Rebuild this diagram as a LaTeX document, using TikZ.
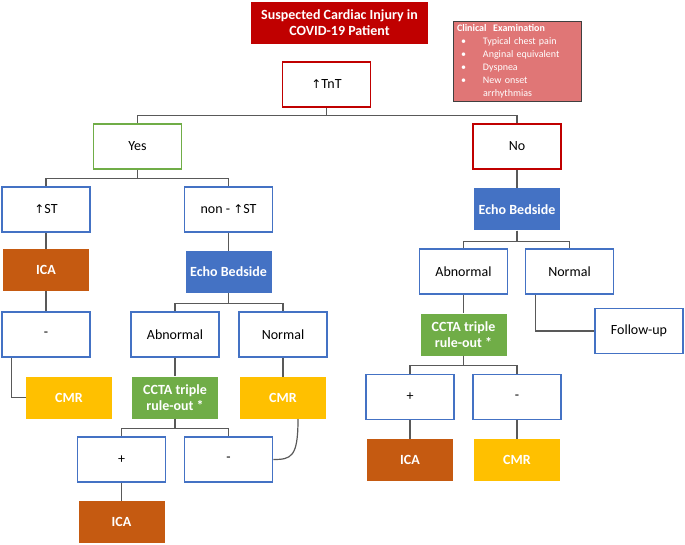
\documentclass[tikz,border=0pt]{standalone}
\usepackage{fontspec}
\setmainfont{Carlito}
\newfontfamily\arrowfont{DejaVu Sans}
\definecolor{titlered}{HTML}{C00000}
\definecolor{clinred}{HTML}{E07676}
\definecolor{yesgreen}{HTML}{70AD47}
\definecolor{boxblue}{HTML}{4472C4}
\definecolor{icaorange}{HTML}{C55A11}
\definecolor{cmryellow}{HTML}{FFC000}
\definecolor{linegray}{HTML}{595959}
\newcommand{\up}{{\arrowfont\fontsize{12}{14}\selectfont ↑}}
\tikzset{
  outline/.style={draw, line width=1.6pt, fill=white, minimum width=88pt,
    minimum height=45pt, inner sep=2pt, font=\fontsize{14}{16}\selectfont},
  bluebox/.style={outline, draw=boxblue},
  filled/.style={minimum width=86pt, minimum height=42pt, inner sep=2pt,
    text=white, align=center, font=\fontsize{14}{16}\selectfont\bfseries},
  link/.style={draw=linegray, line width=1.2pt},
}
\begin{document}
\begin{tikzpicture}[x=1pt,y=-1pt]
\useasboundingbox (0,0) rectangle (685,545);
% header
\node[filled, fill=titlered, minimum width=177pt] (title) at (339.5,23)
  {Suspected Cardiac Injury in\\COVID-19 Patient};
\node[fill=clinred, draw=black!75, line width=0.8pt, minimum width=128pt,
  minimum height=79pt, text width=120pt, align=left, text=white,
  font=\fontsize{10}{13}\selectfont] (clinic) at (517,61.5)
  {\textbf{Clinical\ \ Examination}\\
   \hspace*{4pt}\makebox[22pt][l]{•}Typical chest pain\\
   \hspace*{4pt}\makebox[22pt][l]{•}Anginal equivalent\\
   \hspace*{4pt}\makebox[22pt][l]{•}Dyspnea\\
   \hspace*{4pt}\makebox[22pt][l]{•}New onset\\
   \hspace*{26pt}arrhythmias};
\node[outline, draw=titlered] (tnt) at (326.5,84.5) {\up TnT};
\node[outline, draw=yesgreen] (yes) at (137.5,146.5) {Yes};
\node[outline, draw=titlered] (no) at (517,146.5) {No};
% Yes branch
\node[bluebox] (stA) at (46,209.5) {\up ST};
\node[bluebox] (nonst) at (228.5,209.5) {non - \up ST};
\node[filled, fill=icaorange] (icaA) at (46,270) {ICA};
\node[filled, fill=boxblue] (echoA) at (228.5,272) {Echo Bedside};
\node[bluebox] (minusA) at (46,334.5) {-};
\node[bluebox] (abnA) at (175,334.5) {Abnormal};
\node[bluebox] (normA) at (283,334.5) {Normal};
\node[filled, fill=cmryellow] (cmrA) at (69,397.5) {CMR};
\node[filled, fill=yesgreen] (cctaA) at (175,397.5) {CCTA triple\\rule-out *};
\node[filled, fill=cmryellow] (cmrB) at (283,398) {CMR};
\node[bluebox] (plusA) at (121.5,459.5) {+};
\node[bluebox] (minusB) at (228.5,459.5) {-};
\node[filled, fill=icaorange] (icaB) at (121.5,522) {ICA};
% No branch
\node[filled, fill=boxblue] (echoB) at (517,209.5) {Echo Bedside};
\node[bluebox] (abnB) at (463.5,271.5) {Abnormal};
\node[bluebox] (normB) at (569.5,271.5) {Normal};
\node[filled, fill=yesgreen] (cctaB) at (463.5,334.5) {CCTA triple\\rule-out *};
\node[bluebox] (follow) at (639,331) {Follow-up};
\node[bluebox] (plusB) at (410,397) {+};
\node[bluebox] (minusC) at (517,397) {-};
\node[filled, fill=icaorange] (icaC) at (410,460) {ICA};
\node[filled, fill=cmryellow] (cmrC) at (517,460) {CMR};
% connectors
\draw[link] (tnt.south) -- ++(0,8) -| (yes.north);
\draw[link] (tnt.south) -- ++(0,8) -| (no.north);
\draw[link] (yes.south) -- ++(0,9) -| (stA.north);
\draw[link] (yes.south) -- ++(0,9) -| (nonst.north);
\draw[link] (stA) -- (icaA);
\draw[link] (icaA) -- (minusA);
\draw[link] ([xshift=10pt]minusA.south west) |- (cmrA.west);
\draw[link] (nonst) -- (echoA);
\draw[link] (echoA.south) -- ++(0,10) -| (abnA.north);
\draw[link] (echoA.south) -- ++(0,10) -| (normA.north);
\draw[link] (abnA) -- (cctaA);
\draw[link] (normA) -- (cmrB);
\draw[link] (cctaA.south) -- ++(0,10) -| (plusA.north);
\draw[link] (cctaA.south) -- ++(0,10) -| (minusB.north);
\draw[link] (plusA) -- (icaB);
\draw[link] ([xshift=15pt]cmrB.south) .. controls +(0,38) and +(18,0) .. (minusB.east);
\draw[link] (no) -- (echoB);
\draw[link] (echoB.south) -- ++(0,11) -| (abnB.north);
\draw[link] (echoB.south) -- ++(0,11) -| (normB.north);
\draw[link] (abnB) -- (cctaB);
\draw[link] ([xshift=11pt]normB.south west) |- (follow.west);
\draw[link] (cctaB.south) -- ++(0,10) -| (plusB.north);
\draw[link] (cctaB.south) -- ++(0,10) -| (minusC.north);
\draw[link] (plusB) -- (icaC);
\draw[link] (minusC) -- (cmrC);
\end{tikzpicture}
\end{document}
